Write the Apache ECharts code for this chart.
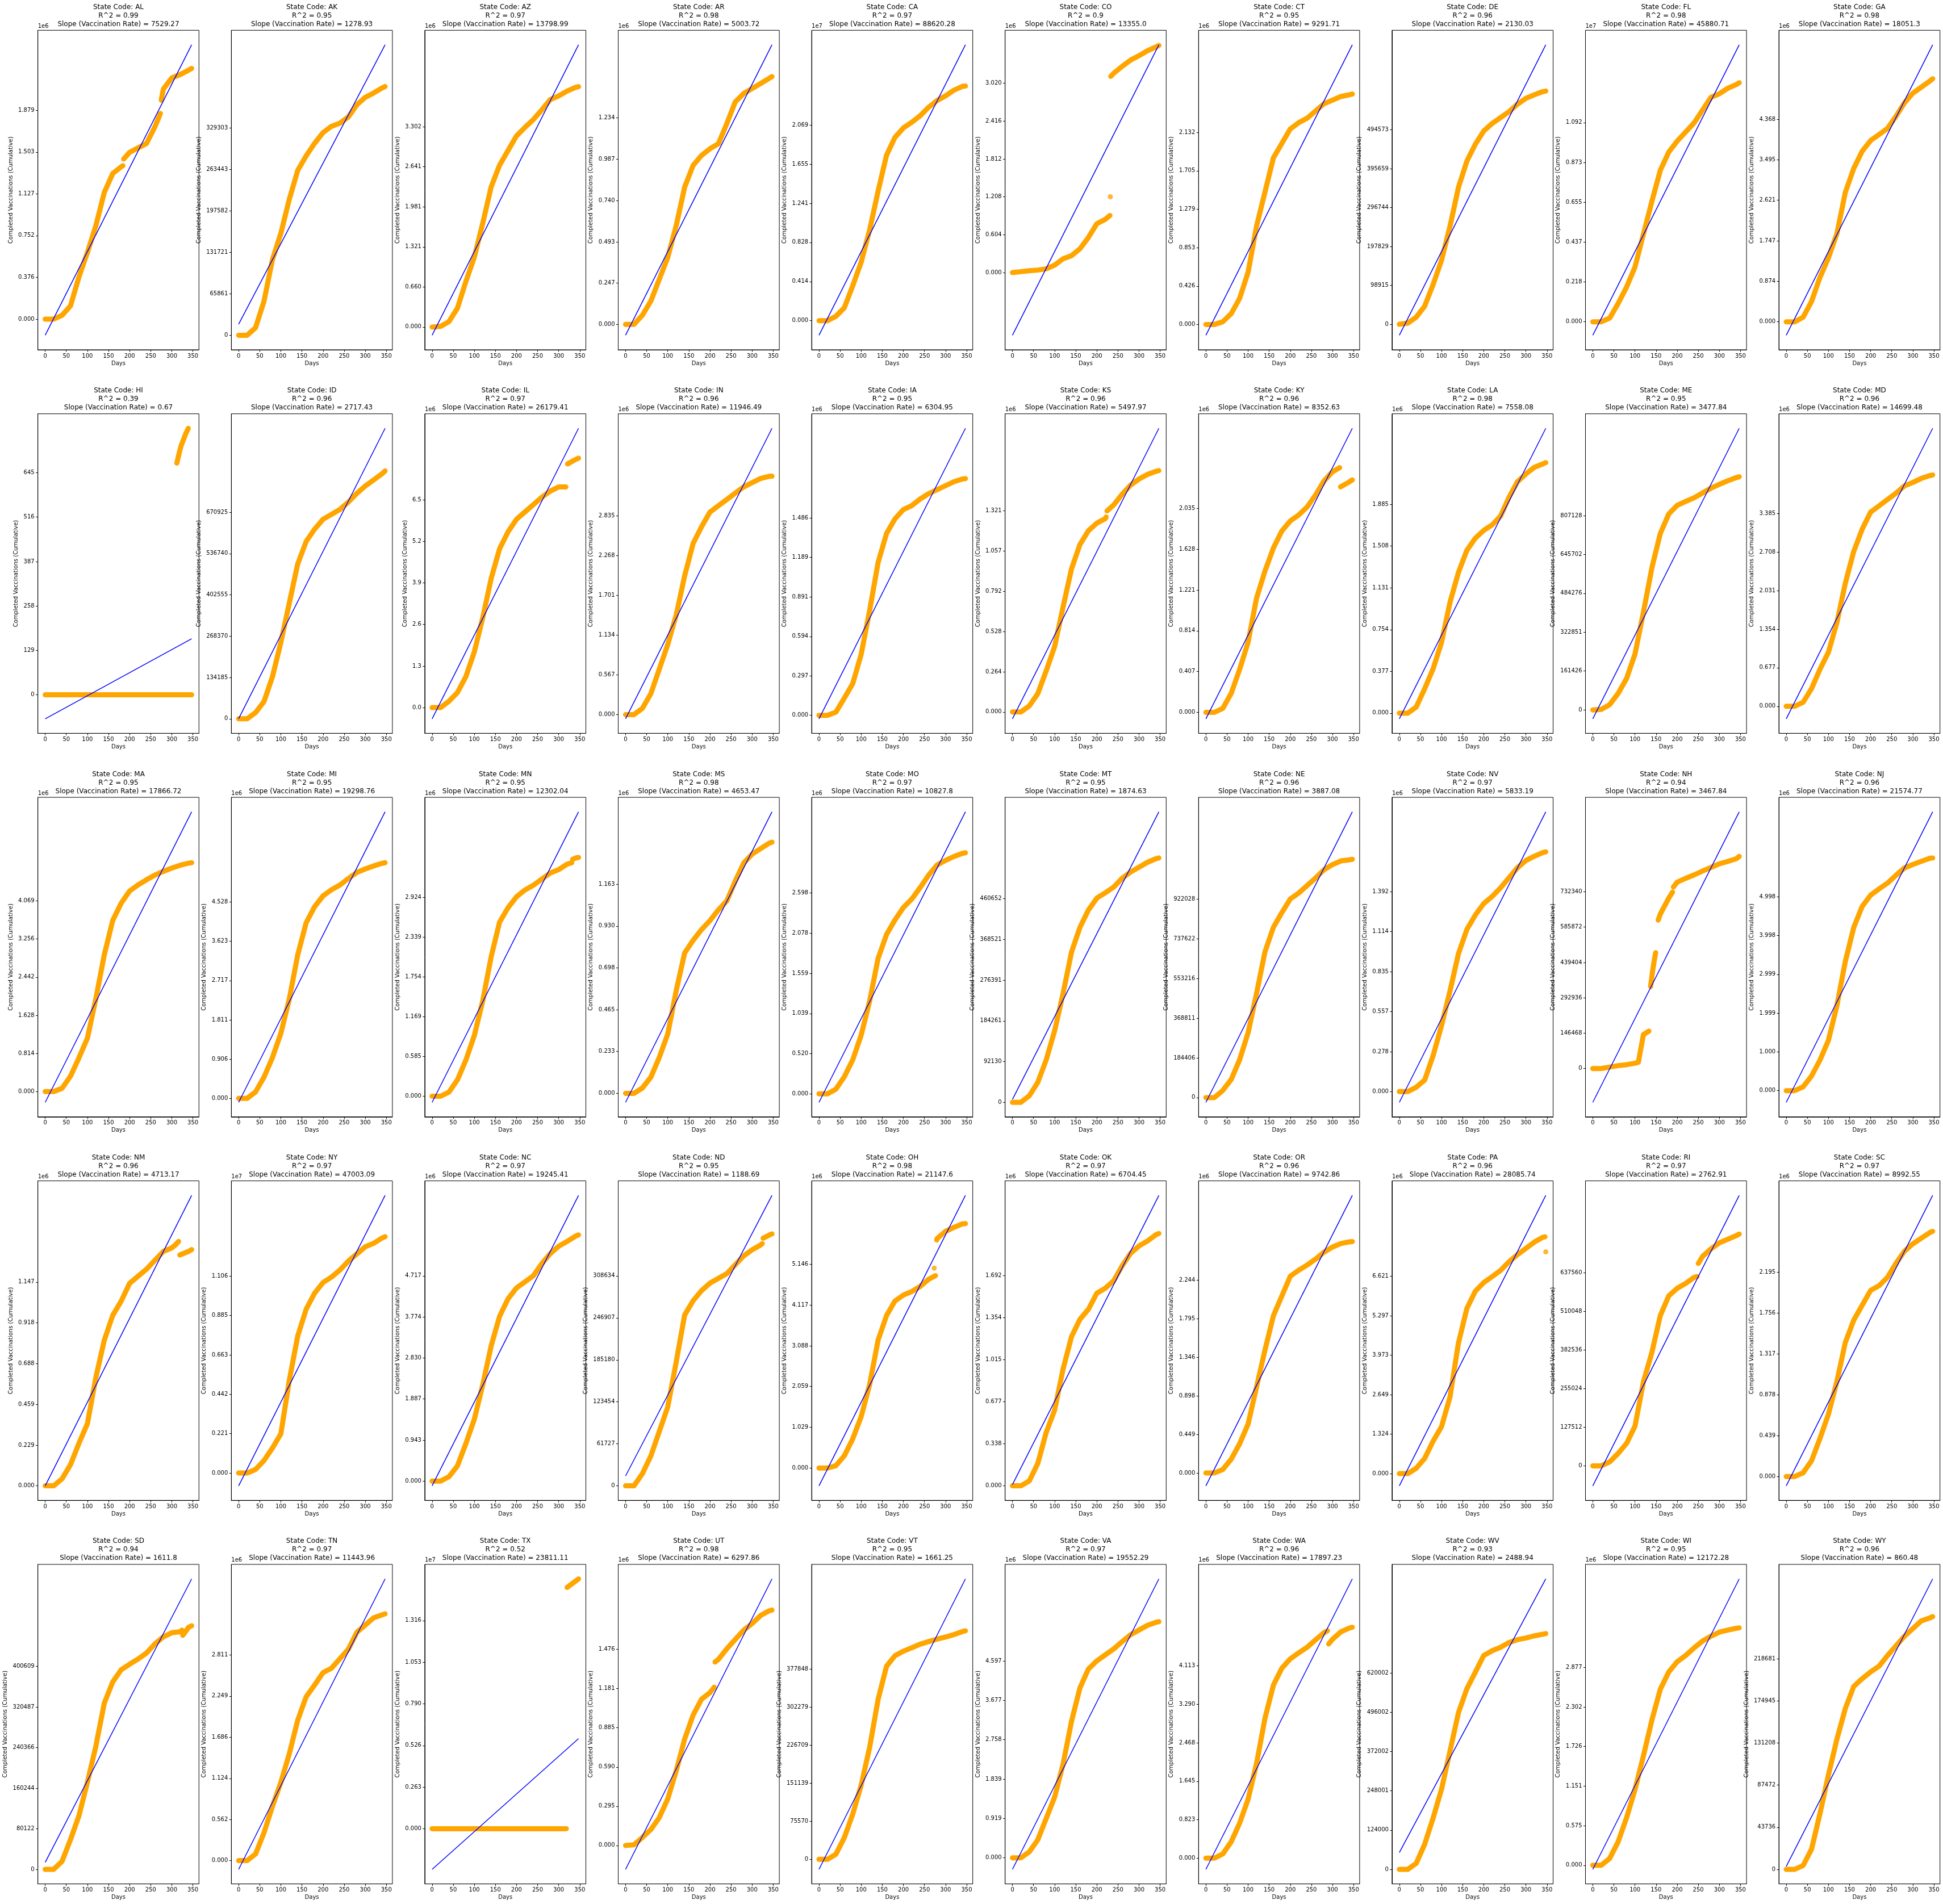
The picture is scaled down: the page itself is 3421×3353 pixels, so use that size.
<!DOCTYPE html>
<html><head><meta charset="utf-8">
<script src="https://cdn.jsdelivr.net/npm/echarts@6/dist/echarts.min.js"></script>
<style>html,body{margin:0;padding:0;background:#fff}#c{width:3421px;height:3353px}</style>
</head><body><div id="c"></div>
<script>
// ---------------- DATA ----------------
const STATES = ['AL','AK','AZ','AR','CA','CO','CT','DE','FL','GA',
                'HI','ID','IL','IN','IA','KS','KY','LA','ME','MD',
                'MA','MI','MN','MS','MO','MT','NE','NV','NH','NJ',
                'NM','NY','NC','ND','OH','OK','OR','PA','RI','SC',
                'SD','TN','TX','UT','VT','VA','WA','WV','WI','WY'];
const R2 = [0.99,0.95,0.97,0.98,0.97,0.9,0.95,0.96,0.98,0.98,
            0.39,0.96,0.97,0.96,0.95,0.96,0.96,0.98,0.95,0.96,
            0.95,0.95,0.95,0.98,0.97,0.95,0.96,0.97,0.94,0.96,
            0.96,0.97,0.97,0.95,0.98,0.97,0.96,0.96,0.97,0.97,
            0.94,0.97,0.52,0.98,0.95,0.97,0.96,0.93,0.95,0.96];
const SLOPES = [7529.27,1278.93,13798.99,5003.72,88620.28,13355.0,9291.71,2130.03,45880.71,18051.3,
                0.67,2717.43,26179.41,11946.49,6304.95,5497.97,8352.63,7558.08,3477.84,14699.48,
                17866.72,19298.76,12302.04,4653.47,10827.8,1874.63,3887.08,5833.19,3467.84,21574.77,
                4713.17,47003.09,19245.41,1188.69,21147.6,6704.45,9742.86,28085.74,2762.91,8992.55,
                1611.8,11443.96,23811.11,6297.86,1661.25,19552.29,17897.23,2488.94,12172.28,860.48];
// y-axis offset exponent (values below are in axis units: value / 10^exp)
const EXPONENTS = [6,0,6,6,7,6,6,0,7,6,
                   0,0,6,6,6,6,6,6,0,6,
                   6,6,6,6,6,0,0,6,0,6,
                   6,7,6,0,6,6,6,6,0,6,
                   0,6,7,6,0,6,6,0,6,0];
// regression line value at day 0 (axis units)
const INTERCEPTS = [-0.145,17700,-0.136,-0.065,-0.155,-1.0,-0.12,-28000,-0.074,-0.29,
                    -69.6,500,-0.35,-0.06,-0.026,-0.045,-0.064,-0.051,-37000,-0.22,
                    -0.23,-0.09,-0.09,-0.05,-0.11,6600,-22000,-0.075,-140000,-0.30,
                    0.0,-0.072,-0.11,14500,-0.45,0.01,-0.15,-0.41,-66000,-0.10,
                    14000,-0.12,-0.257,-0.18,-20000,-0.27,-0.24,53000,-0.06,3000];
const TICKS = {
  AL:['0.000','0.376','0.752','1.127','1.503','1.879'],
  AK:['0','65861','131721','197582','263443','329303'],
  AZ:['0.000','0.660','1.321','1.981','2.641','3.302'],
  AR:['0.000','0.247','0.493','0.740','0.987','1.234'],
  CA:['0.000','0.414','0.828','1.241','1.655','2.069'],
  CO:['0.000','0.604','1.208','1.812','2.416','3.020'],
  CT:['0.000','0.426','0.853','1.279','1.705','2.132'],
  DE:['0','98915','197829','296744','395659','494573'],
  FL:['0.000','0.218','0.437','0.655','0.873','1.092'],
  GA:['0.000','0.874','1.747','2.621','3.495','4.368'],
  HI:['0','129','258','387','516','645'],
  ID:['0','134185','268370','402555','536740','670925'],
  IL:['0.0','1.3','2.6','3.9','5.2','6.5'],
  IN:['0.000','0.567','1.134','1.701','2.268','2.835'],
  IA:['0.000','0.297','0.594','0.891','1.189','1.486'],
  KS:['0.000','0.264','0.528','0.792','1.057','1.321'],
  KY:['0.000','0.407','0.814','1.221','1.628','2.035'],
  LA:['0.000','0.377','0.754','1.131','1.508','1.885'],
  ME:['0','161426','322851','484276','645702','807128'],
  MD:['0.000','0.677','1.354','2.031','2.708','3.385'],
  MA:['0.000','0.814','1.628','2.442','3.256','4.069'],
  MI:['0.000','0.906','1.811','2.717','3.623','4.528'],
  MN:['0.000','0.585','1.169','1.754','2.339','2.924'],
  MS:['0.000','0.233','0.465','0.698','0.930','1.163'],
  MO:['0.000','0.520','1.039','1.559','2.078','2.598'],
  MT:['0','92130','184261','276391','368521','460652'],
  NE:['0','184406','368811','553216','737622','922028'],
  NV:['0.000','0.278','0.557','0.835','1.114','1.392'],
  NH:['0','146468','292936','439404','585872','732340'],
  NJ:['0.000','1.000','1.999','2.999','3.998','4.998'],
  NM:['0.000','0.229','0.459','0.688','0.918','1.147'],
  NY:['0.000','0.221','0.442','0.663','0.885','1.106'],
  NC:['0.000','0.943','1.887','2.830','3.774','4.717'],
  ND:['0','61727','123454','185180','246907','308634'],
  OH:['0.000','1.029','2.059','3.088','4.117','5.146'],
  OK:['0.000','0.338','0.677','1.015','1.354','1.692'],
  OR:['0.000','0.449','0.898','1.346','1.795','2.244'],
  PA:['0.000','1.324','2.649','3.973','5.297','6.621'],
  RI:['0','127512','255024','382536','510048','637560'],
  SC:['0.000','0.439','0.878','1.317','1.756','2.195'],
  SD:['0','80122','160244','240366','320487','400609'],
  TN:['0.000','0.562','1.124','1.686','2.249','2.811'],
  TX:['0.000','0.263','0.526','0.790','1.053','1.316'],
  UT:['0.000','0.295','0.590','0.885','1.181','1.476'],
  VT:['0','75570','151139','226709','302279','377848'],
  VA:['0.000','0.919','1.839','2.758','3.677','4.597'],
  WA:['0.000','0.823','1.645','2.468','3.290','4.113'],
  WV:['0','124000','248001','372002','496002','620002'],
  WI:['0.000','0.575','1.151','1.726','2.302','2.877'],
  WY:['0','43736','87472','131208','174945','218681']
};
const X_TICKS = [0,50,100,150,200,250,300,350];
const DAYS = [0,20,40,60,80,100,120,140,160,180,200,220,240,260,280,300,320,340,347];
const VALUES = {
  AL:[0,0,0.035,0.12,0.38,0.60,0.84,1.14,1.31,1.37,1.50,1.54,1.58,1.73,2.07,2.17,2.20,2.24,2.255],
  AK:[0,0,12000,54000,120000,162000,216000,262000,285000,305000,322000,332000,337000,347000,366000,378000,385000,393000,395164],
  AZ:[0,0.01,0.09,0.31,0.75,1.15,1.71,2.31,2.67,2.91,3.15,3.29,3.42,3.58,3.75,3.81,3.89,3.95,3.962],
  AR:[0,0,0.055,0.14,0.27,0.40,0.59,0.82,0.95,1.01,1.05,1.08,1.20,1.33,1.38,1.41,1.44,1.47,1.481],
  CA:[0,0,0.046,0.136,0.37,0.62,0.96,1.37,1.75,1.94,2.04,2.10,2.17,2.26,2.33,2.38,2.44,2.48,2.483],
  CO:[0,0.015,0.03,0.04,0.06,0.12,0.22,0.27,0.38,0.56,0.78,0.85,3.18,3.29,3.39,3.46,3.54,3.60,3.624],
  CT:[0,0,0.03,0.12,0.29,0.58,1.09,1.47,1.85,2.01,2.17,2.24,2.29,2.37,2.45,2.49,2.53,2.55,2.558],
  DE:[0,3000,18000,46000,101000,163000,249000,348000,415000,458000,492000,511000,526000,541000,560000,575000,584000,592000,593490],
  FL:[0,0,0.02,0.10,0.19,0.30,0.48,0.66,0.83,0.93,0.99,1.04,1.09,1.16,1.23,1.25,1.28,1.30,1.310],
  GA:[0,0,0.10,0.44,0.96,1.38,1.90,2.79,3.31,3.68,3.91,4.04,4.17,4.43,4.72,4.93,5.06,5.19,5.242],
  HI:[0,0,0,0,0,0,0,0,0,0,0,0,0,0,0,0,0,0,0],
  ID:[0,0,20000,56000,136000,248000,376000,503000,576000,616000,648000,664000,680000,704000,732000,756000,776000,796000,805110],
  IL:[0,0,0.2,0.47,0.97,1.74,2.81,4.04,4.97,5.50,5.89,6.12,6.35,6.58,6.77,6.90,null,7.76,7.80],
  IN:[0,0,0.09,0.30,0.65,1.00,1.42,1.98,2.44,2.68,2.89,2.98,3.07,3.16,3.25,3.31,3.37,3.40,3.402],
  IA:[0,0,0.024,0.13,0.24,0.46,0.79,1.15,1.37,1.48,1.55,1.58,1.63,1.67,1.70,1.73,1.76,1.78,1.783],
  KS:[0,0,0.04,0.12,0.27,0.43,0.69,0.94,1.10,1.19,1.24,1.27,1.36,1.43,1.49,1.53,1.56,1.58,1.585],
  KY:[0,0,0.04,0.19,0.43,0.70,1.14,1.41,1.64,1.81,1.91,1.97,2.05,2.17,2.31,2.40,null,2.30,2.32],
  LA:[0,0,0.055,0.22,0.40,0.64,1.00,1.27,1.47,1.58,1.65,1.70,1.78,1.95,2.09,2.16,2.22,2.25,2.262],
  ME:[0,2000,22000,68000,130000,232000,406000,590000,733000,814000,850000,866000,881000,901000,921000,937000,952000,965000,968554],
  MD:[0,0,0.07,0.31,0.65,0.95,1.47,2.16,2.72,3.11,3.41,3.52,3.63,3.74,3.87,3.93,4.00,4.05,4.062],
  MA:[0,0,0.07,0.33,0.72,1.14,1.98,2.92,3.65,4.02,4.28,4.41,4.52,4.62,4.70,4.77,4.83,4.875,4.883],
  MI:[0,0,0.15,0.49,0.94,1.50,2.29,3.31,4.05,4.42,4.67,4.81,4.92,5.07,5.21,5.29,5.36,5.42,5.434],
  MN:[0,0,0.06,0.24,0.53,0.89,1.40,2.05,2.56,2.77,2.93,3.03,3.10,3.19,3.28,3.33,3.41,3.50,3.509],
  MS:[0,0,0.03,0.09,0.20,0.33,0.57,0.78,0.85,0.91,0.96,1.02,1.07,1.18,1.28,1.33,1.36,1.39,1.396],
  MO:[0,0,0.06,0.22,0.44,0.76,1.20,1.75,2.06,2.25,2.41,2.52,2.67,2.83,2.96,3.02,3.07,3.11,3.118],
  MT:[0,0,15000,45000,96000,162000,246000,340000,396000,435000,462000,474000,487000,507000,521000,532000,543000,551000,552782],
  NE:[0,0,33000,84000,176000,301000,483000,677000,791000,859000,922000,950000,985000,1020000,1058000,1082000,1099000,1104000,1106434],
  NV:[0,0,0.03,0.08,0.25,0.46,0.70,0.96,1.13,1.23,1.31,1.36,1.42,1.49,1.56,1.61,1.64,1.665,1.670],
  NH:[0,0,6000,12000,16000,22000,141000,null,640000,706000,772000,788000,802000,818000,833000,848000,858000,869000,878808],
  NJ:[0,0,0.10,0.38,0.79,1.30,2.19,3.33,4.21,4.75,5.04,5.20,5.35,5.55,5.74,5.83,5.91,5.99,5.998],
  NM:[0,0,0.04,0.12,0.24,0.35,0.61,0.82,0.96,1.04,1.14,1.18,1.22,1.27,1.32,1.34,null,1.32,1.33],
  NY:[0,0,0.02,0.07,0.14,0.22,0.52,0.77,0.92,1.01,1.07,1.10,1.14,1.19,1.23,1.27,1.29,1.32,1.327],
  NC:[0,0,0.10,0.35,0.86,1.42,2.21,3.11,3.79,4.19,4.44,4.58,4.72,5.00,5.23,5.40,5.51,5.63,5.660],
  ND:[0,0,18000,44000,80000,116000,182000,251000,272000,287000,298000,305000,312000,325000,338000,347000,354000,368500,370361],
  OH:[0,0,0.06,0.31,0.74,1.30,2.11,3.23,3.85,4.22,4.37,4.46,4.59,4.77,5.80,5.98,6.08,6.17,6.175],
  OK:[0,0,0.04,0.18,0.43,0.61,0.94,1.20,1.34,1.42,1.55,1.59,1.65,1.77,1.87,1.93,1.97,2.02,2.030],
  OR:[0,0,0.04,0.16,0.34,0.57,1.00,1.43,1.83,2.06,2.29,2.36,2.42,2.49,2.57,2.63,2.67,2.69,2.693],
  PA:[0,0,0.18,0.51,1.09,1.58,2.57,4.38,5.54,6.12,6.41,6.61,6.82,7.11,7.35,7.56,7.77,7.93,null],
  RI:[0,0,13000,41000,74000,131000,277000,374000,496000,561000,586000,602000,622000,691000,716000,736000,748000,760000,765072],
  SC:[0,0,0.04,0.17,0.41,0.67,1.02,1.44,1.68,1.84,2.00,2.05,2.14,2.29,2.42,2.50,2.56,2.62,2.634],
  SD:[0,0,16000,59000,106000,172000,243000,328000,370000,394000,405000,415000,427000,445000,459000,467000,469000,478000,480731],
  TN:[0,0,0.09,0.38,0.74,1.07,1.46,1.92,2.24,2.40,2.57,2.63,2.76,2.89,3.12,3.22,3.32,3.36,3.373],
  TX:[0,0,0,0,0,0,0,0,0,0,0,0,0,0,0,0,null,null,null],
  UT:[0,0.005,0.06,0.12,0.21,0.35,0.56,0.80,0.98,1.10,1.15,1.40,1.48,1.55,1.62,1.67,1.73,1.765,1.771],
  VT:[0,0,10000,43000,90000,147000,222000,317000,383000,404000,413000,420000,427000,432000,437000,441000,446000,452000,453418],
  VA:[0,0,0.14,0.42,0.92,1.42,2.19,3.19,3.97,4.41,4.60,4.74,4.88,5.05,5.21,5.32,5.43,5.50,5.516],
  WA:[0,0,0.09,0.35,0.75,1.26,2.02,2.99,3.70,4.06,4.26,4.39,4.51,4.67,4.82,4.68,4.84,4.92,4.936],
  WV:[0,0,19000,79000,162000,253000,373000,494000,570000,622000,675000,690000,701000,716000,725000,730000,737000,742000,744002],
  WI:[0,0,0.10,0.34,0.69,1.10,1.59,2.11,2.56,2.81,2.96,3.05,3.16,3.26,3.33,3.39,3.42,3.445,3.452],
  WY:[0,0,4000,21000,58000,98000,135000,167000,190000,198000,205000,211000,222000,232000,242000,250000,258000,261000,262417]
};
// extra readings around jumps: [state, day, value]; a null value marks a gap
const EXTRA = [
  ['AL',184,1.38],['AL',185,null],['AL',186,1.44],['AL',273,1.85],['AL',274,null],['AL',275,1.97],
  ['CO',231,0.91],['CO',232,null],['CO',233,3.13],
  ['IL',317,6.90],['IL',319,null],['IL',321,7.62],
  ['KS',222,1.28],['KS',223,null],['KS',224,1.32],
  ['KY',317,2.442],['KY',318,null],['KY',319,2.25],
  ['MN',331,3.43],['MN',332,null],['MN',333,3.48],
  ['NH',108,26000],['NH',133,155000],['NH',135,null],['NH',137,340000],['NH',141,395000],['NH',145,441000],['NH',149,480000],
  ['NH',152,null],['NH',155,615000],['NH',189,731000],['NH',190,null],['NH',191,752000],
  ['NM',310,1.36],['NM',316,1.376],['NM',317,null],['NM',319,1.30],
  ['ND',324,356000],['ND',325,null],['ND',326,364000],
  ['OH',276,4.86],['OH',277,null],['OH',279,5.76],
  ['PA',345,7.945],
  ['RI',247,625000],['RI',248,null],['RI',250,668000],
  ['SD',324,472000],['SD',325,null],['SD',326,462000],
  ['TX',318,0],
  ['UT',210,1.19],['UT',211,null],['UT',212,1.38],
  ['WA',288,4.86],['WA',289,null],['WA',291,4.58]
];
// separate clusters of readings that overlap other days
const CLUSTERS = [
  ['HI',[[312,673],[317,700],[322,723],[327,739],[333,758],[339,774]]],
  ['TX',[[320,1.525],[330,1.545],[340,1.565],[347,1.579]]]
];
const OUTLIERS = [['CO',232,1.21],['OH',273,5.05],['PA',347,7.44]];
const LAST_DAY = 347;

// ---------------- LAYOUT / STYLE ----------------
const FONT = '"DejaVu Sans", sans-serif';
const AX_LEFT0 = 66.7, AX_DX = 340.6, AX_TOP0 = 53.3, AX_DY = 675.4, AX_W = 283.6, AX_H = 562.7;
const X_MIN = -17.35, X_MAX = 364.35;
const ORANGE = '#FFA500', BLUE = '#0000FF';

const mctx = document.createElement('canvas').getContext('2d');
mctx.font = '10px "DejaVu Sans"';

const grids = [], xAxes = [], yAxes = [], series = [], graphics = [];
STATES.forEach((st, i) => {
  const col = i % 10, row = Math.floor(i / 10);
  const left = AX_LEFT0 + col * AX_DX, top = AX_TOP0 + row * AX_DY;
  grids.push({left: left, top: top, width: AX_W, height: AX_H, show: true,
              borderColor: '#000', borderWidth: 1, backgroundColor: 'transparent'});
  const exp = EXPONENTS[i];
  const slopeAx = SLOPES[i] / Math.pow(10, exp);
  const b = INTERCEPTS[i];
  const lineEnd = b + slopeAx * LAST_DAY;

  const pts = [];
  DAYS.forEach((d, k) => { const v = VALUES[st][k]; if (v !== null) pts.push([d, v]); });
  EXTRA.filter(e => e[0] === st).forEach(e => pts.push([e[1], e[2]]));
  pts.sort((a, c) => a[0] - c[0]);
  const segs = [[]];
  pts.forEach(p => { if (p[1] === null) segs.push([]); else segs[segs.length - 1].push(p); });
  CLUSTERS.filter(c => c[0] === st).forEach(c => segs.push(c[1]));
  const outs = OUTLIERS.filter(o => o[0] === st).map(o => [o[1], o[2]]);

  const ys = [];
  segs.forEach(s => s.forEach(p => ys.push(p[1])));
  outs.forEach(p => ys.push(p[1]));
  ys.push(b, lineEnd);
  const lo = Math.min(...ys), hi = Math.max(...ys), R = hi - lo;

  const labels = TICKS[st];
  const tickVals = labels.map(Number);
  let maxW = 0;
  labels.forEach(l => { maxW = Math.max(maxW, mctx.measureText(l).width); });

  xAxes.push({
    type: 'value', gridIndex: i, min: X_MIN, max: X_MAX,
    axisLine: {show: true, onZero: false, lineStyle: {color: '#000', width: 1}},
    axisTick: {show: true, length: 3.5, lineStyle: {color: '#000', width: 1}, customValues: X_TICKS},
    axisLabel: {customValues: X_TICKS, fontSize: 10, color: '#000', fontFamily: FONT, margin: 6,
                formatter: v => String(Math.round(v))},
    splitLine: {show: false},
    name: 'Days', nameLocation: 'middle', nameGap: 19,
    nameTextStyle: {fontSize: 10, color: '#000', fontFamily: FONT}
  });
  yAxes.push({
    type: 'value', gridIndex: i, min: lo - 0.05 * R, max: hi + 0.05 * R,
    axisLine: {show: true, onZero: false, lineStyle: {color: '#000', width: 1}},
    axisTick: {show: true, length: 3.5, lineStyle: {color: '#000', width: 1}, customValues: tickVals},
    axisLabel: {customValues: tickVals, fontSize: 10, color: '#000', fontFamily: FONT, margin: 6,
                formatter: v => {
                  let best = 0, bd = Infinity;
                  tickVals.forEach((t, k) => { const d = Math.abs(t - v); if (d < bd) { bd = d; best = k; } });
                  return labels[best];
                }},
    splitLine: {show: false},
    name: 'Completed Vaccinations (Cumulative)', nameLocation: 'middle', nameRotate: 90,
    nameGap: maxW + 14,
    nameTextStyle: {fontSize: 10, color: '#000', fontFamily: FONT}
  });

  segs.forEach(s => {
    if (!s.length) return;
    series.push({
      type: 'line', xAxisIndex: i, yAxisIndex: i, data: s, symbol: 'none', showSymbol: false,
      silent: true, z: 2, animation: false,
      lineStyle: {color: ORANGE, width: 9, cap: 'round', join: 'round'}
    });
  });
  if (outs.length) {
    series.push({type: 'scatter', xAxisIndex: i, yAxisIndex: i, data: outs, symbolSize: 9,
                 silent: true, z: 2, itemStyle: {color: ORANGE}});
  }
  series.push({
    type: 'line', xAxisIndex: i, yAxisIndex: i, data: [[0, b], [LAST_DAY, lineEnd]],
    symbol: 'none', showSymbol: false, silent: true, z: 3,
    lineStyle: {color: BLUE, width: 1.5}
  });

  const cx = left + AX_W / 2;
  const slopeStr = Number.isInteger(SLOPES[i]) ? SLOPES[i].toFixed(1) : String(SLOPES[i]);
  const lines = ['State Code: ' + st, 'R^2 = ' + String(R2[i]), 'Slope (Vaccination Rate) = ' + slopeStr];
  lines.forEach((t, k) => {
    graphics.push({type: 'text', x: cx, y: top - 40.6 + k * 15, silent: true,
      style: {text: t, fill: '#000', font: '12px ' + FONT, textAlign: 'center', align: 'center',
              textVerticalAlign: 'middle', verticalAlign: 'middle'}});
  });
  if (exp > 0) {
    graphics.push({type: 'text', x: left, y: top - 2, silent: true,
      style: {text: '1e' + exp, fill: '#000', font: '10px ' + FONT, textAlign: 'left', align: 'left',
              textVerticalAlign: 'bottom', verticalAlign: 'bottom'}});
  }
});

const chart = echarts.init(document.getElementById('c'), null, {renderer: 'canvas', width: 3421, height: 3353});
chart.setOption({
  animation: false,
  backgroundColor: '#fff',
  grid: grids, xAxis: xAxes, yAxis: yAxes, series: series,
  graphic: {elements: graphics}
});
</script>
</body></html>
